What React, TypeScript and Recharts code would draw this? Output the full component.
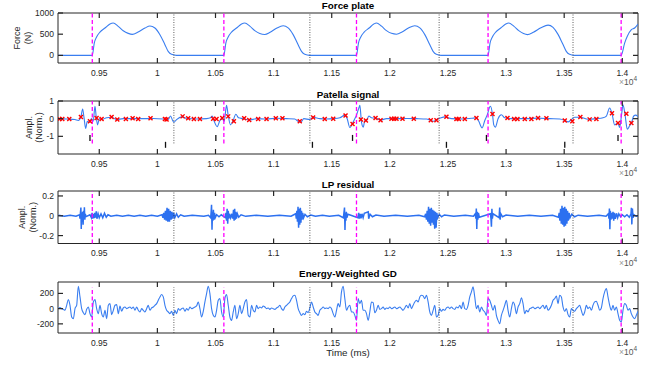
import React from 'react';
import { ComposedChart, Line, Scatter, XAxis, YAxis, ReferenceLine, ReferenceArea } from 'recharts';

// time axis (ms), shared by all four panels
const X_MIN = 9145;
const X_MAX = 14135;
const xTicks = [9500, 10000, 10500, 11000, 11500, 12000, 12500, 13000, 13500, 14000];
const xTickLabels = ['0.95', '1', '1.05', '1.1', '1.15', '1.2', '1.25', '1.3', '1.35', '1.4'];

// gait events
const heelStrikes = [9440, 10572, 11713, 12845, 13990];
const toeOffs = [10142, 11312, 12424, 13576];

// force plate [ms, N]
const forcePlate: [number, number][] = [
  [9145, 0], [9440, 0], [9457, 290], [9477, 433], [9506, 550], [9549, 645], [9592, 740], [9620, 763],
  [9663, 685], [9706, 582], [9749, 519], [9784, 496], [9835, 551], [9893, 645], [9936, 693], [9979, 645],
  [10022, 488], [10065, 252], [10093, 94], [10122, 24], [10165, 0],
  [10572, 0], [10589, 290], [10609, 433], [10638, 550], [10681, 645], [10724, 740], [10752, 763],
  [10795, 690], [10838, 585], [10881, 515], [10924, 492], [10970, 545], [11025, 640], [11082, 700],
  [11125, 650], [11168, 490], [11211, 250], [11240, 95], [11268, 25], [11310, 0],
  [11713, 0], [11730, 290], [11750, 433], [11779, 550], [11822, 645], [11862, 740], [11885, 765],
  [11928, 690], [11971, 585], [12014, 520], [12057, 500], [12105, 550], [12160, 645], [12215, 700],
  [12258, 650], [12301, 490], [12344, 250], [12372, 95], [12400, 25], [12440, 0],
  [12845, 0], [12862, 290], [12882, 433], [12911, 550], [12954, 645], [12997, 740], [13023, 765],
  [13066, 690], [13109, 585], [13150, 515], [13184, 490], [13235, 545], [13300, 650], [13361, 715],
  [13404, 660], [13447, 495], [13490, 255], [13518, 95], [13546, 25], [13585, 0],
  [13990, 0], [14020, 290], [14043, 450], [14078, 606], [14106, 645], [14135, 740],
];

// patella signal [ms, normalised amplitude]
const patella: [number, number][] = [
  [9148, 0], [9219, -0.02], [9291, -0.05], [9320, -0.1], [9342, 0.1], [9357, 0.55], [9368, 0.1],
  [9383, -0.55], [9397, -0.15], [9414, -0.2], [9434, 0], [9448, -0.15], [9463, 0.7], [9474, 0.1],
  [9486, -0.35], [9500, 0], [9520, -0.05], [9563, 0.05], [9606, 0.08], [9649, -0.05], [9706, 0],
  [9792, 0], [9878, 0], [9964, 0.01], [10050, -0.02], [10093, -0.05], [10113, 0.15], [10131, -0.1],
  [10142, -0.2], [10165, -0.05], [10208, 0.1], [10251, 0.02], [10337, -0.02], [10423, 0],
  [10457, 0.05], [10472, 0.15], [10489, -0.15], [10515, -0.45], [10538, -0.1], [10558, 0],
  [10575, -0.15], [10595, 0.75], [10609, 0.2], [10629, -0.35], [10652, -0.1], [10675, 0.25],
  [10698, 0.05], [10738, 0], [10790, -0.08], [10853, 0], [10939, -0.02], [11025, 0.02], [11111, 0],
  [11182, -0.02], [11211, -0.15], [11234, -0.2], [11260, 0], [11311, -0.05], [11340, 0.08],
  [11397, 0], [11455, -0.02], [11513, 0], [11570, 0.05], [11613, 0.2], [11633, 0], [11656, -0.5],
  [11676, -0.3], [11699, 0], [11713, 0.2], [11733, 0.6], [11742, 0.75], [11756, -0.2], [11771, -0.48],
  [11785, -0.1], [11799, -0.1], [11819, 0.15], [11842, 0.05], [11885, 0.02], [11920, -0.08],
  [11971, 0], [12057, 0], [12143, 0.01], [12229, 0], [12315, -0.02], [12352, -0.1], [12378, -0.15],
  [12401, -0.05], [12430, 0.02], [12473, 0.1], [12530, 0], [12630, -0.02], [12702, 0.02],
  [12745, 0.05], [12765, -0.15], [12794, -0.52], [12817, -0.1], [12837, 0.2], [12865, 0.7],
  [12883, 0.25], [12894, -0.35], [12908, -0.48], [12931, 0], [12960, 0.22], [12989, 0.05],
  [13060, 0], [13175, 0], [13275, 0.03], [13376, 0], [13462, -0.02], [13505, -0.1], [13533, -0.18],
  [13562, -0.05], [13590, 0.08], [13639, 0.08], [13705, -0.03], [13777, 0], [13834, 0.05],
  [13863, 0.15], [13891, 0.6], [13911, 0.3], [13934, -0.35], [13963, -0.25], [13977, -0.5],
  [13995, 0.3], [14006, 0.78], [14023, 0.25], [14043, -0.6], [14063, -0.4], [14078, -0.25],
  [14098, 0.15], [14115, 0.2], [14135, 0.12],
];

// detected peaks on the patella signal (red crosses)
const patellaPeaks: [number, number][] = [
  [9156, -0.02], [9182, -0.02], [9242, -0.02], [9342, 0.1], [9420, -0.15], [9477, 0.04], [9520, -0.02],
  [9606, 0.1], [9655, -0.05], [9729, -0.02], [9787, 0.02], [9835, -0.02], [9941, 0.02], [10065, -0.02],
  [10079, -0.05], [10217, 0.13], [10265, 0.02], [10314, -0.02], [10366, -0.02], [10480, 0],
  [10509, -0.02], [10558, 0.04], [10609, 0.13], [10658, -0.15], [10747, 0.02], [10790, -0.07],
  [10867, -0.02], [10939, -0.02], [11019, 0.02], [11076, 0.02], [11225, -0.15], [11340, 0.07],
  [11440, -0.02], [11513, 0], [11619, 0.18], [11679, -0.3], [11751, -0.05], [11794, -0.1],
  [11877, 0.04], [11920, -0.09], [12014, 0], [12037, 0], [12057, 0], [12109, 0], [12206, 0],
  [12352, -0.09], [12401, -0.09], [12487, 0.11], [12573, -0.02], [12593, -0.02], [12645, -0.02],
  [12745, 0.04], [12883, 0.26], [13012, 0.04], [13069, -0.02], [13098, -0.02], [13161, -0.02],
  [13218, -0.02], [13275, 0.04], [13347, 0.02], [13505, -0.1], [13570, -0.15], [13639, 0.09],
  [13719, -0.04], [13777, -0.02], [13911, 0.31], [13963, -0.24], [14035, 0.28], [14078, -0.24],
];

// estimated events (short black bars under the patella signal)
const patellaEvents: [number, number][] = [
  [9420, -1.09], [10070, -1.48], [10503, -1.09], [11334, -1.48], [11679, -1.09],
  [12487, -1.48], [12831, -1.09], [13505, -1.48], [13963, -1.09],
];

// LP residual [ms, normalised amplitude]
const lpResidual: [number, number][] = [
  [9148, 0.005], [9200, -0.005], [9250, 0.006], [9300, -0.004], [9330, 0.01], [9334, -0.03],
  [9338, 0.03], [9342, 0.083], [9345, -0.133], [9349, 0.03], [9353, -0.04], [9357, 0.04],
  [9361, -0.09], [9365, 0.05], [9369, -0.03], [9372, 0.085], [9376, -0.04], [9380, 0.02],
  [9385, -0.01], [9420, 0.01], [9432, -0.02], [9438, 0.03], [9444, -0.03], [9450, 0.02],
  [9456, -0.025], [9462, 0.03], [9468, -0.02], [9474, 0.045], [9480, -0.03], [9490, 0.02],
  [9500, -0.02], [9515, 0.02], [9530, -0.02], [9545, 0.025], [9560, -0.015], [9575, 0.01],
  [9600, -0.005], [9650, 0.006], [9700, -0.005], [9750, 0.005], [9800, -0.005], [9850, 0.004],
  [9900, -0.005], [9950, 0.005], [10000, -0.004], [10040, 0.01], [10048, -0.02], [10055, 0.03],
  [10062, -0.04], [10069, 0.05], [10076, -0.05], [10083, 0.08], [10090, -0.06], [10097, 0.07],
  [10104, -0.06], [10111, 0.05], [10118, -0.04], [10125, 0.04], [10132, -0.03], [10140, 0.03],
  [10150, -0.02], [10165, 0.02], [10180, -0.015], [10200, 0.01], [10230, -0.005], [10300, 0.005],
  [10400, -0.005], [10440, 0.005], [10458, -0.02], [10462, 0.03], [10466, 0.11], [10470, -0.14],
  [10474, 0.04], [10478, -0.05], [10482, 0.06], [10486, -0.04], [10492, 0.03], [10498, -0.02],
  [10510, 0.01], [10530, -0.01], [10550, 0.01], [10585, -0.02], [10590, 0.03], [10595, -0.05],
  [10600, 0.07], [10605, -0.08], [10610, 0.05], [10615, -0.03], [10620, 0.02], [10630, -0.02],
  [10640, 0.02], [10648, -0.03], [10655, 0.06], [10660, -0.05], [10665, 0.07], [10670, -0.04],
  [10675, 0.04], [10680, -0.03], [10688, 0.02], [10700, -0.015], [10720, 0.01], [10760, -0.006],
  [10850, 0.005], [10950, -0.005], [11050, 0.005], [11150, -0.005], [11190, 0.02], [11195, -0.03],
  [11200, 0.05], [11205, -0.06], [11210, 0.09], [11215, -0.12], [11220, 0.07], [11225, -0.09],
  [11230, 0.08], [11235, -0.07], [11240, 0.05], [11245, -0.04], [11250, 0.03], [11258, -0.02],
  [11270, 0.015], [11290, -0.01], [11320, 0.008], [11360, -0.005], [11420, 0.005], [11480, -0.005],
  [11560, 0.005], [11600, -0.02], [11605, 0.03], [11610, 0.083], [11614, -0.143], [11618, 0.03],
  [11622, -0.05], [11626, 0.04], [11630, -0.02], [11640, 0.015], [11725, -0.02], [11732, 0.03],
  [11738, -0.03], [11745, 0.02], [11752, -0.025], [11760, 0.02], [11770, -0.02], [11780, 0.025],
  [11814, 0.04], [11818, -0.03], [11830, 0.015], [11850, -0.01], [11880, 0.008], [11950, -0.005],
  [12050, 0.005], [12150, -0.005], [12250, 0.005], [12300, -0.01], [12308, 0.02], [12315, -0.04],
  [12321, 0.05], [12327, -0.06], [12333, 0.09], [12339, -0.08], [12345, 0.07], [12351, -0.1],
  [12357, 0.08], [12363, -0.07], [12369, 0.06], [12375, -0.09], [12380, 0.05], [12386, -0.13],
  [12392, 0.04], [12398, -0.12], [12404, 0.03], [12412, -0.02], [12425, 0.015], [12445, -0.01],
  [12470, 0.008], [12550, -0.005], [12650, 0.005], [12720, -0.005], [12735, 0.02], [12740, -0.03],
  [12744, 0.073], [12748, -0.133], [12752, 0.04], [12757, -0.04], [12762, 0.03], [12770, -0.015],
  [12865, 0.02], [12870, -0.03], [12874, -0.11], [12878, 0.07], [12882, -0.03], [12888, 0.02],
  [12940, -0.02], [12945, 0.083], [12949, -0.04], [12955, 0.02], [12970, -0.01], [13000, 0.008],
  [13100, -0.005], [13200, 0.005], [13300, -0.005], [13400, 0.005], [13450, -0.015], [13457, 0.03],
  [13463, -0.05], [13469, 0.07], [13475, -0.08], [13481, 0.1], [13487, -0.09], [13493, 0.08],
  [13499, -0.11], [13505, 0.09], [13511, -0.1], [13517, 0.07], [13523, -0.08], [13529, 0.05],
  [13535, -0.05], [13542, 0.03], [13550, -0.02], [13565, 0.015], [13590, -0.01], [13620, 0.006],
  [13700, -0.005], [13800, 0.005], [13860, -0.005], [13880, 0.02], [13885, -0.03], [13889, 0.073],
  [13893, -0.137], [13897, 0.05], [13902, -0.04], [13908, 0.03], [13914, -0.03], [13920, 0.04],
  [13926, -0.05], [13932, 0.03], [13940, -0.03], [13950, 0.025], [13960, -0.02], [13970, 0.02],
  [13985, -0.01], [14000, 0.01], [14020, -0.01], [14040, 0.01], [14060, -0.015], [14075, 0.02],
  [14078, 0.08], [14082, -0.087], [14087, 0.073], [14092, -0.02], [14100, 0.01], [14120, -0.005],
  [14135, 0],
];

// energy-weighted group delay, sampled every gdStep ms from gdStart
const gdStart = 9148;
const gdStep = 14.33;
const gdValues = [
  0, 13, 0, -9, -22, 44, 119, 44, -110, -132, 0, 44, 295, 154, 0, -53, -79, -9, 22, -66, -110, 88, 119,
  0, -66, 44, -66, -110, -22, -132, 44, 66, -79, -22, 44, 53, -66, 35, -35, 9, 22, 0, 13, 22, 0, 22,
  -22, 22, -22, -44, 0, -22, -44, 0, 44, -22, 9, 22, 44, 66, 110, 154, 185, 154, 44, -22, -44, -66,
  -35, -88, -22, -66, 0, -22, 0, 9, -35, 0, -22, 22, 0, 9, 22, 35, 88, 0, -110, -35, 88, 198, 295,
  198, 0, -88, -110, -22, 110, 132, -44, -110, 132, 185, 44, -110, -154, -44, 44, -132, -66, 44, -66,
  0, 88, 119, -88, -110, 44, -22, -44, 44, 0, 22, 9, 35, 22, 0, 9, -9, 9, 0, -9, 9, 22, 44, 0, -22,
  22, 44, 66, 88, 132, 167, 176, 110, 0, -53, -88, -66, -79, -35, -53, 9, 88, 22, -44, -66, -88, -22,
  0, 22, 0, 9, 0,
  22, 0, -66, -110, -22, 66, 22, 220, 295, 132, -22, 22, 44, -44, -44, -88, -154, 132, 66, 110, -22,
  -22, -66, -154, -44, 88, 79, -53, -22, 44, -9, 0, 22, -9, 9, 0, 22, 0, 9, 22, 0, 9, 22, 0, -22, 9,
  44, 9, 66, 0, 44, 88, 110, 88, 154, 176, 167, 132, 176, 88, -44, -88, -22, 44, -110, -88, 0, -35,
  -9, -22, 9, 22, 0, 22, 0, -9, 22, 9, 44, 0, 88, 0, -9, 44, 154, 220, 286, 154, 0, 44, -44, 22, -22,
  -44, -88, 132, 110, 44, -22, 44, -88, -154, -198, -88, -22, 44, 110, -22, -110, 0, 88, 44, -66, 22,
  66, 141, 66, -66, -22, -44, 0, 9, 22, 0, 9, 22, 0, 22, 44, 0, 44, -22, 0, 44, 110, 132, 167, 66,
  176, 154, 22, -35, 0, -79, -110, 0, -22, -35, 0, 22, 44, -22, -88, -44, 44, 0, 22, -22, 44, 88, 97,
  44, -22, 9, 132, 220, 264, 154, 44, -22, 44, -22, 22, -66, -154, -176, -22, 66, 44, -22, 0, -66,
  -110, -132, -88, -35,
];

const W = 660;
const H = 365;
const PLOT_L = 58;
const PLOT_R = 638;
const FONT = '"Liberation Sans", Arial, Helvetica, sans-serif';
const AXIS = '#262626';
const BLUE = '#3a7ef0';

type Geo = { top: number; bottom: number };
const gForce: Geo = { top: 13, bottom: 63 };
const gPatella: Geo = { top: 101, bottom: 154 };
const gLp: Geo = { top: 191, bottom: 243.5 };
const gGd: Geo = { top: 282, bottom: 333 };

const toPts = (arr: [number, number][]) => arr.map(([t, v]) => ({ t, v }));
const gdData = gdValues.map((v, i) => ({ t: gdStart + i * gdStep, v }));

const crossShape = (p: any) => {
  const { cx, cy } = p;
  const s = 2;
  return (
    <path d={`M${cx - s},${cy - s}L${cx + s},${cy + s}M${cx - s},${cy + s}L${cx + s},${cy - s}`}
      stroke="#ff0000" strokeWidth={1.4} fill="none" />
  );
};

const barShape = (p: any) => (
  <line x1={p.cx} x2={p.cx} y1={p.cy - 3} y2={p.cy + 3} stroke="#111" strokeWidth={1.3} />
);

function Panel({ geo, yDomain, yTicks, yTickLabels, children }: {
  geo: Geo; yDomain: [number, number]; yTicks: number[]; yTickLabels: string[]; children: React.ReactNode;
}) {
  const xTick = (p: any) => {
    const x = p.x;
    const i = xTicks.indexOf(p.payload.value);
    return (
      <g>
        <line x1={x} x2={x} y1={geo.bottom} y2={geo.bottom - 5} stroke={AXIS} strokeWidth={1.2} />
        <line x1={x} x2={x} y1={geo.top} y2={geo.top + 5} stroke={AXIS} strokeWidth={1.2} />
        <text x={x} y={geo.bottom + 12.5} textAnchor="middle" fontSize={8.5} fill={AXIS} fontFamily={FONT}>
          {xTickLabels[i]}
        </text>
      </g>
    );
  };
  const yTick = (p: any) => {
    const y = p.y;
    const i = yTicks.indexOf(p.payload.value);
    return (
      <g>
        <line x1={PLOT_L} x2={PLOT_L + 5} y1={y} y2={y} stroke={AXIS} strokeWidth={1.2} />
        <line x1={PLOT_R} x2={PLOT_R - 5} y1={y} y2={y} stroke={AXIS} strokeWidth={1.2} />
        <text x={PLOT_L - 4} y={y + 3} textAnchor="end" fontSize={8.5} fill={AXIS} fontFamily={FONT}>
          {yTickLabels[i]}
        </text>
      </g>
    );
  };
  return (
    <div style={{ position: 'absolute', left: 0, top: 0 }}>
      <ComposedChart width={W} height={H}
        margin={{ top: geo.top, right: W - PLOT_R, bottom: H - geo.bottom - 20, left: PLOT_L - 40 }}>
        <XAxis type="number" dataKey="t" domain={[X_MIN, X_MAX]} allowDataOverflow ticks={xTicks}
          interval={0} tick={xTick} tickLine={false} axisLine={false} height={20} />
        <YAxis type="number" domain={yDomain} allowDataOverflow ticks={yTicks} interval={0}
          tick={yTick} tickLine={false} axisLine={false} width={40} />
        {children}
        <ReferenceArea x1={X_MIN} x2={X_MAX} y1={yDomain[0]} y2={yDomain[1]} fill="none"
          stroke={AXIS} strokeWidth={1} ifOverflow="visible" />
      </ComposedChart>
    </div>
  );
}

const heelLine = (t: number, seg?: [number, number]) =>
  seg ? (
    <ReferenceLine key={`h${t}`} segment={[{ x: t, y: seg[0] }, { x: t, y: seg[1] }]}
      stroke="#ff00ff" strokeWidth={1.3} strokeDasharray="4 2.5" />
  ) : (
    <ReferenceLine key={`h${t}`} x={t} stroke="#ff00ff" strokeWidth={1.3} strokeDasharray="4 2.5" />
  );

const toeLine = (t: number, seg?: [number, number]) =>
  seg ? (
    <ReferenceLine key={`o${t}`} segment={[{ x: t, y: seg[0] }, { x: t, y: seg[1] }]}
      stroke="#333" strokeWidth={0.8} strokeDasharray="1 1.5" />
  ) : (
    <ReferenceLine key={`o${t}`} x={t} stroke="#333" strokeWidth={0.8} strokeDasharray="1 1.5" />
  );

function Labels() {
  const title = (x: number, y: number, s: string) => (
    <text x={x} y={y} textAnchor="middle" fontSize={9.8} fontWeight="bold" fill="#000" fontFamily={FONT}>{s}</text>
  );
  const ylab = (x1: number, x2: number, cy: number, a: string, b: string) => (
    <g fontSize={9} fill={AXIS} fontFamily={FONT} textAnchor="middle">
      <text transform={`translate(${x1},${cy}) rotate(-90)`} dy="0.35em">{a}</text>
      <text transform={`translate(${x2},${cy}) rotate(-90)`} dy="0.35em">{b}</text>
    </g>
  );
  const exp = (y: number) => (
    <text x={PLOT_R - 1} y={y} textAnchor="end" fontSize={8.5} fill="#555" fontFamily={FONT}>
      <tspan fill="#999">×</tspan>10<tspan fontSize={6.5} dy={-4}>4</tspan>
    </text>
  );
  const cx = (PLOT_L + PLOT_R) / 2;
  return (
    <svg width={W} height={H} style={{ position: 'absolute', left: 0, top: 0, pointerEvents: 'none' }}>
      {title(cx, 9, 'Force plate')}
      {title(cx, 97.5, 'Patella signal')}
      {title(cx, 187.5, 'LP residual')}
      {title(cx, 277, 'Energy-Weighted GD')}
      {ylab(17, 28, (gForce.top + gForce.bottom) / 2, 'Force', '(N)')}
      {ylab(29, 39, (gPatella.top + gPatella.bottom) / 2, 'Ampl.', '(Norm.)')}
      {ylab(22, 33, (gLp.top + gLp.bottom) / 2, 'Ampl.', '(Norm.)')}
      {exp(gForce.bottom + 22)}
      {exp(gPatella.bottom + 22)}
      {exp(gLp.bottom + 22)}
      {exp(gGd.bottom + 22)}
      <text x={cx} y={356} textAnchor="middle" fontSize={9.8} fill={AXIS} fontFamily={FONT}>Time (ms)</text>
    </svg>
  );
}

export default function App() {
  return (
    <div style={{ position: 'fixed', left: 0, top: 0, width: W, height: H, background: '#fff', overflow: 'hidden' }}>
      <Panel geo={gForce} yDomain={[-180, 1000]} yTicks={[0, 500, 1000]} yTickLabels={['0', '500', '1000']}>
        <Line data={toPts(forcePlate)} dataKey="v" type="monotone" stroke={BLUE} strokeWidth={1.1}
          dot={false} isAnimationActive={false} />
        {heelStrikes.map((t) => heelLine(t))}
        {toeOffs.map((t) => toeLine(t))}
      </Panel>
      <Panel geo={gPatella} yDomain={[-2, 1]} yTicks={[-1, 0, 1]} yTickLabels={['-1', '0', '1']}>
        <Line data={toPts(patella)} dataKey="v" type="monotone" stroke={BLUE} strokeWidth={1.1}
          dot={false} isAnimationActive={false} />
        {heelStrikes.map((t) => heelLine(t, [-1.4, 1]))}
        {toeOffs.map((t) => toeLine(t, [-1.4, 1]))}
        <Scatter data={toPts(patellaPeaks)} dataKey="v" shape={crossShape} isAnimationActive={false} />
        <Scatter data={toPts(patellaEvents)} dataKey="v" shape={barShape} isAnimationActive={false} />
      </Panel>
      <Panel geo={gLp} yDomain={[-0.28, 0.25]} yTicks={[-0.2, 0, 0.2]} yTickLabels={['-0.2', '0', '0.2']}>
        <Line data={toPts(lpResidual)} dataKey="v" type="linear" stroke="#2c70f0" strokeWidth={1.5}
          dot={false} isAnimationActive={false} />
        {heelStrikes.map((t) => heelLine(t))}
        {toeOffs.map((t) => toeLine(t))}
      </Panel>
      <Panel geo={gGd} yDomain={[-320, 350]} yTicks={[-200, 0, 200]} yTickLabels={['-200', '0', '200']}>
        <Line data={gdData} dataKey="v" type="monotone" stroke={BLUE} strokeWidth={1.1}
          dot={false} isAnimationActive={false} />
        {heelStrikes.map((t) => heelLine(t, [-320, 280]))}
        {toeOffs.map((t) => toeLine(t, [-320, 280]))}
      </Panel>
      <Labels />
    </div>
  );
}
